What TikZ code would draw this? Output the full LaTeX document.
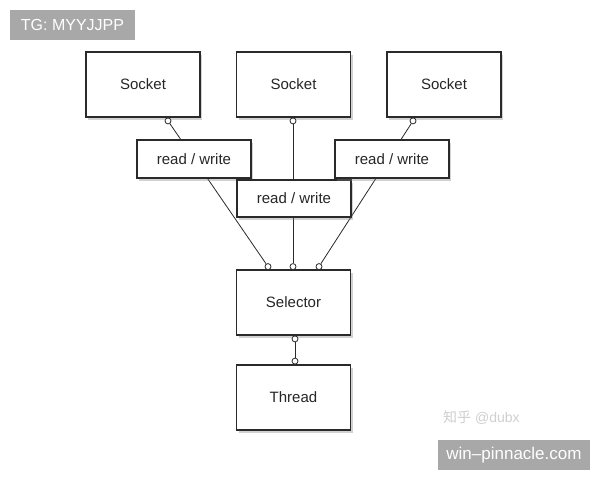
\documentclass[tikz,border=0pt]{standalone}
\usepackage{fontspec}
\setmainfont{Liberation Sans}
\newfontfamily\cjk{Noto Sans CJK SC}
\usetikzlibrary{shadows,backgrounds}
\definecolor{edge}{HTML}{2A2A2A}
\definecolor{tag}{HTML}{A8A8A8}
\definecolor{mark}{HTML}{CFCFCF}
\tikzset{
  box/.style={draw=edge, line width=1.1pt, fill=white, inner sep=0pt,
    font=\fontsize{15}{17}\selectfont, text=black!85,
    drop shadow={opacity=0.35, shadow xshift=2pt, shadow yshift=-3pt}},
  bigbox/.style={box, minimum width=114pt, minimum height=65pt},
  rwbox/.style={box, minimum width=114pt, minimum height=38pt},
  port/.style={circle, draw=edge, fill=white, line width=0.8pt, inner sep=0pt, minimum size=6pt},
  wire/.style={draw=edge, line width=0.8pt},
  tagbox/.style={fill=tag, text=white, inner sep=0pt}
}
\begin{document}
\begin{tikzpicture}[x=1pt,y=-1pt]
\useasboundingbox (0,0) rectangle (600,480);
% boxes
\node[bigbox] (sk1) at (143,84.5) {Socket};
\node[bigbox] (sk2) at (293.5,84.5) {Socket};
\node[bigbox] (sk3) at (444,84.5) {Socket};
\node[rwbox] (rw1) at (194,159) {read / write};
\node[rwbox, minimum height=37pt] (rw2) at (294,198.5) {read / write};
\node[rwbox] (rw3) at (392,159) {read / write};
\node[bigbox] (sel) at (293.5,302.5) {Selector};
\node[bigbox] (thr) at (293.5,397.5) {Thread};
% ports
\node[port, anchor=north] (a1) at (168,117.5) {};
\node[port, anchor=north] (a2) at (293,117.5) {};
\node[port, anchor=north] (a3) at (413,117.5) {};
\node[port, anchor=south] (b1) at (268,270) {};
\node[port, anchor=south] (b2) at (293,270) {};
\node[port, anchor=south] (b3) at (319,270) {};
\node[port, anchor=north] (c1) at (295,335.5) {};
\node[port, anchor=south] (c2) at (295,364.5) {};
\begin{pgfonlayer}{background}
\fill[white] (0,0) rectangle (600,480);
\draw[wire] (a1) -- (b1);
\draw[wire] (a2) -- (b2);
\draw[wire] (a3) -- (b3);
\draw[wire] (c1) -- (c2);
\end{pgfonlayer}
% watermarks
\node[tagbox, minimum width=125pt, minimum height=30pt, font=\fontsize{16}{18}\selectfont] (tg) at (72.5,25) {TG: MYYJJPP};
\node[text=mark, font=\fontsize{14}{16}\selectfont, anchor=west, inner sep=0pt] (zh) at (443,418) {{\cjk 知乎} @dubx};
\node[tagbox, minimum width=152pt, minimum height=30pt, font=\fontsize{17}{19}\selectfont] (wp) at (514,455) {win–pinnacle.com};
\end{tikzpicture}
\end{document}
